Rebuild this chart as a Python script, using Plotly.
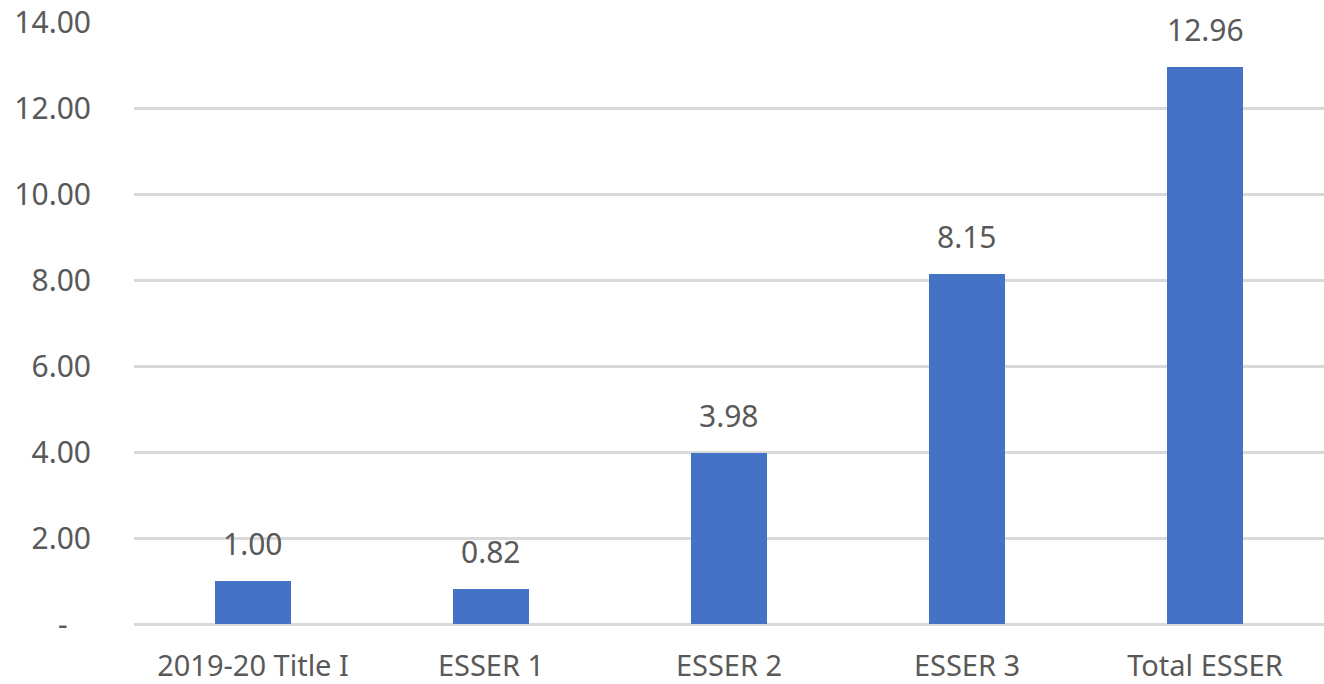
import plotly.graph_objects as go

# Funding ratios by source
categories = ["2019-20 Title I", "ESSER 1", "ESSER 2", "ESSER 3", "Total ESSER"]
values = [1.00, 0.82, 3.98, 8.15, 12.96]

# Y-axis ticks (zero shown as a dash, accounting style)
tick_vals = [0, 2, 4, 6, 8, 10, 12, 14]
tick_text = ["-\u00a0\u00a0\u00a0", "2.00", "4.00", "6.00", "8.00", "10.00", "12.00", "14.00"]

FONT = "Segoe UI, Noto Sans, Open Sans, sans-serif"
SIZE = 30
TEXT_COLOR = "#595959"
GRID = "#d9d9d9"

fig = go.Figure(
    go.Bar(
        x=categories,
        y=values,
        width=0.32,
        marker=dict(color="#4472C4", line=dict(width=0)),
        hoverinfo="skip",
    )
)

# Value labels above each bar
for cat, val in zip(categories, values):
    fig.add_annotation(
        x=cat, y=val, text=f"{val:.2f}",
        showarrow=False, yanchor="bottom", yshift=15,
        font=dict(family=FONT, size=SIZE, color=TEXT_COLOR),
    )

fig.update_layout(
    width=1324, height=684,
    margin=dict(l=134, r=0, t=22, b=60, autoexpand=False),
    plot_bgcolor="white", paper_bgcolor="white",
    showlegend=False,
    bargap=0,
    font=dict(family=FONT, size=SIZE, color=TEXT_COLOR),
)
fig.update_xaxes(
    showgrid=False, showline=False, zeroline=False, automargin=False,
    ticks="", ticklabelstandoff=22,
    tickfont=dict(family=FONT, size=29, color=TEXT_COLOR),
)
fig.update_yaxes(
    range=[0, 14], tickvals=tick_vals, ticktext=tick_text, automargin=False,
    showgrid=True, gridcolor=GRID, gridwidth=3,
    zeroline=True, zerolinecolor=GRID, zerolinewidth=3,
    showline=False, ticks="", ticklabelstandoff=42,
    tickfont=dict(family=FONT, size=SIZE, color=TEXT_COLOR),
)

fig.write_html("out.html")
